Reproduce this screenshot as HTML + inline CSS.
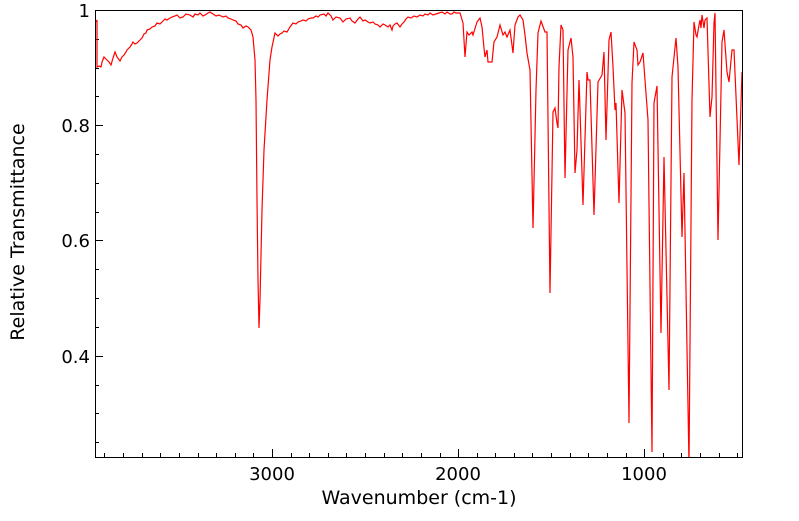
<!DOCTYPE html>
<html><head><meta charset="utf-8"><style>
body{margin:0;background:#fff;width:799px;height:516px;overflow:hidden}
text{font-family:"DejaVu Sans",sans-serif;fill:#000}
</style></head><body>
<svg width="799" height="516" xmlns="http://www.w3.org/2000/svg">
<defs><clipPath id="c"><rect x="95" y="10" width="647" height="447"/></clipPath></defs>
<g stroke="#000" stroke-width="1">
<rect x="95.5" y="10.5" width="647" height="447" fill="none"/>
<path d="M95 125.5h8M95 240.5h8M95 356.5h8M95 39.5h4M95 68.5h4M95 96.5h4M95 154.5h4M95 183.5h4M95 212.5h4M95 269.5h4M95 298.5h4M95 327.5h4M95 385.5h4M95 413.5h4M95 442.5h4"/>
<path d="M272.5 457v-8M458.5 457v-8M644.5 457v-8
M104.5 457v-4M123.5 457v-4M142.5 457v-4M160.5 457v-4M179.5 457v-4M198.5 457v-4M216.5 457v-4M235.5 457v-4M253.5 457v-4
M291.5 457v-4M309.5 457v-4M328.5 457v-4M346.5 457v-4M365.5 457v-4M384.5 457v-4M402.5 457v-4M421.5 457v-4M440.5 457v-4
M477.5 457v-4M495.5 457v-4M514.5 457v-4M532.5 457v-4M551.5 457v-4M570.5 457v-4M588.5 457v-4M607.5 457v-4M626.5 457v-4
M663.5 457v-4M681.5 457v-4M700.5 457v-4M719.5 457v-4M737.5 457v-4"/>
</g>
<g font-size="18" text-anchor="end">
<text x="90" y="17">1</text><text x="90" y="132">0.8</text><text x="90" y="247">0.6</text><text x="90" y="363">0.4</text>
</g>
<g font-size="18" text-anchor="middle">
<text x="272" y="480">3000</text><text x="458" y="480">2000</text><text x="644" y="480">1000</text>
</g>
<g font-size="19" text-anchor="middle">
<text x="419" y="504">Wavenumber (cm-1)</text>
<text transform="translate(24,232) rotate(-90)">Relative Transmittance</text>
</g>
<path clip-path="url(#c)" fill="none" stroke="#f00" stroke-width="1.2" d="M96 22 L97 20 L97 67 L99 66 L101 67 L102 62 L104 57 L106 59 L107 60 L109 62 L111 65 L113 58 L115 52 L117 57 L120 61 L122 57 L124 55 L126 52 L127 50 L129 48 L130 47 L132 44 L133 42 L135 44 L137 43 L140 40 L142 38 L144 34 L146 33 L147 30 L150 29 L152 27 L155 26 L157 23 L160 24 L162 22 L165 19 L167 20 L170 18 L172 17 L175 16 L177 15 L180 18 L183 17 L186 14 L190 15 L193 17 L195 14 L198 15 L200 13 L203 16 L205 15 L208 13 L210 12 L213 14 L216 16 L219 15 L223 17 L226 16 L228 18 L231 19 L233 20 L236 21 L238 24 L241 25 L243 28 L246 26 L248 27 L251 30 L253 37 L255 60 L256 100 L257 200 L258 280 L259 328 L260 300 L262 210 L264 150 L267 100 L270 60 L272 47 L275 33 L278 36 L280 34 L282 33 L284 31 L287 32 L290 27 L293 23 L296 24 L298 22 L301 21 L303 20 L306 21 L308 19 L311 18 L313 18 L316 16 L318 17 L320 15 L324 14 L326 16 L328 13 L331 16 L333 20 L336 17 L340 18 L343 22 L346 19 L350 18 L352 21 L355 23 L358 19 L360 17 L363 21 L365 20 L368 22 L370 23 L373 22 L375 24 L378 25 L380 27 L383 24 L385 25 L388 27 L390 25 L392 30 L393 26 L395 24 L397 23 L400 27 L402 24 L404 22 L406 19 L408 17 L411 18 L414 16 L417 17 L420 15 L423 16 L425 14 L428 15 L430 13 L433 15 L436 14 L439 13 L442 12 L445 14 L447 12 L450 14 L452 14 L454 12 L456 13 L460 13 L463 23 L465 57 L467 32 L469 35 L472 32 L473 35 L477 22 L480 18 L482 27 L484 48 L485 57 L487 50 L488 62 L492 62 L494 42 L497 37 L500 25 L503 35 L505 32 L507 37 L510 30 L513 53 L515 25 L518 17 L520 15 L523 20 L525 35 L527 53 L530 70 L533 228 L536 90 L538 33 L541 21 L545 32 L547 32 L550 293 L553 112 L555 108 L557 123 L558 128 L559 67 L561 25 L563 30 L565 178 L568 50 L571 38 L573 57 L575 173 L577 150 L579 80 L580 110 L583 205 L587 72 L588 80 L590 80 L594 215 L598 82 L602 75 L604 52 L606 140 L609 40 L611 32 L613 67 L615 110 L616 103 L619 203 L622 90 L625 113 L629 423 L632 83 L634 42 L637 50 L638 65 L640 62 L643 53 L645 80 L648 120 L652 452 L654 103 L657 86 L661 333 L664 157 L669 390 L672 77 L676 38 L678 67 L682 237 L684 173 L689 465 L692 100 L694 22 L696 35 L697 37 L699 25 L700 20 L701 28 L702 15 L704 28 L705 20 L707 18 L710 117 L712 97 L714 23 L715 13 L718 240 L722 42 L724 30 L727 72 L729 82 L732 50 L734 50 L739 165 L742 72"/>
</svg>
</body></html>
